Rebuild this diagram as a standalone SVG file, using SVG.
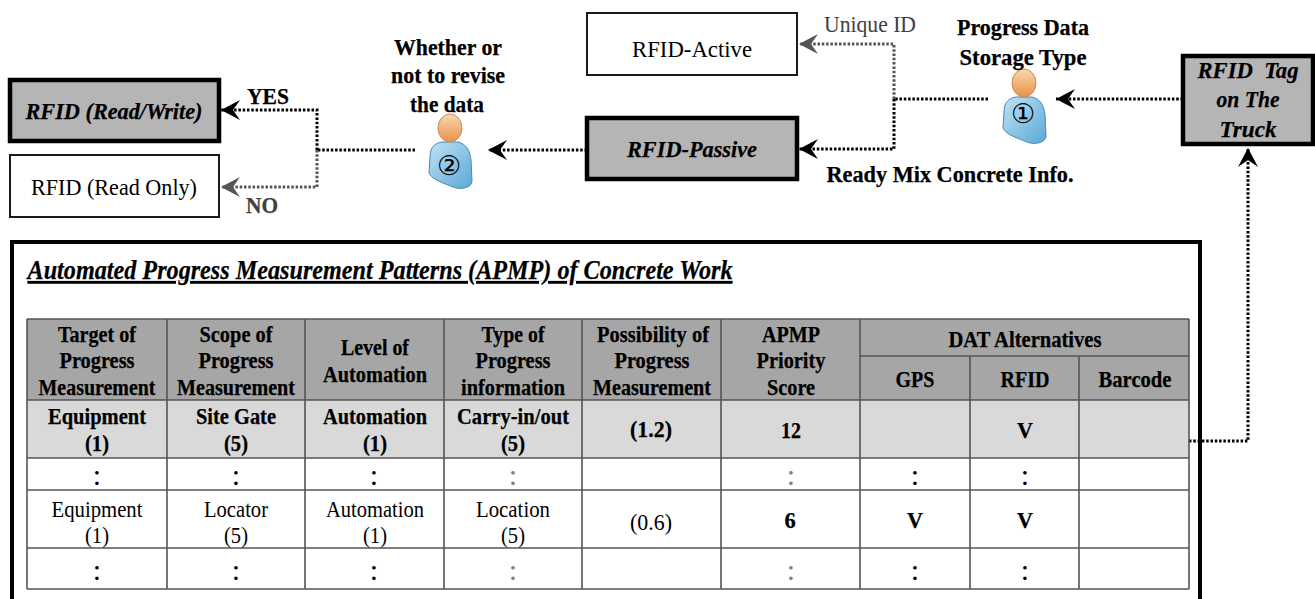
<svg xmlns="http://www.w3.org/2000/svg" width="1315" height="599" viewBox="0 0 1315 599">
<style>
text{font-family:"Liberation Serif","Times New Roman",serif;font-size:22.5px;fill:#000;text-anchor:middle}
.b{font-weight:bold;stroke:#000;stroke-width:.25}
.bi{font-weight:bold;font-style:italic;stroke:#000;stroke-width:.25}
.g{fill:#404040;stroke:#404040}
.dots{font-size:30px}
.dg{fill:#808080}
.thin{fill:#fff;stroke:#1a1a1a;stroke-width:2}
.thick{fill:#b5b5b5;stroke:#000;stroke-width:4.5}
.c{fill:none;stroke:#000;stroke-width:3;stroke-dasharray:2.5 1.8}
.cg{stroke:#555}
.grid{stroke:#555;stroke-width:1.6;fill:none}
.dig{font-family:"DejaVu Sans",sans-serif;font-size:27px}
</style>
<defs>
<marker id="a" markerUnits="userSpaceOnUse" markerWidth="22" markerHeight="24" refX="21" refY="12" orient="auto"><path d="M21 12L2 2L9 12L2 22Z" fill="#000"/></marker>
<marker id="ag" markerUnits="userSpaceOnUse" markerWidth="22" markerHeight="24" refX="21" refY="12" orient="auto"><path d="M21 12L2 2L9 12L2 22Z" fill="#555"/></marker>
<linearGradient id="skin" x1="0" y1="0" x2="0" y2="1"><stop offset="0" stop-color="#f8d8b0"/><stop offset="1" stop-color="#e8924a"/></linearGradient>
<linearGradient id="shirt" x1="0" y1="0" x2="1" y2="1"><stop offset="0" stop-color="#bfe3f5"/><stop offset="1" stop-color="#5ba8d6"/></linearGradient>
<g id="person">
<path d="M-20 -3C-20 -14 -14 -17 -8 -18L8 -18C16 -16 20 -10 21 0L22 21C22 28 10 30 3 27C-4 24 -18 20 -21 13Z" fill="url(#shirt)" stroke="#4a88ad" stroke-width="1"/>
<ellipse cx="0" cy="-32" rx="12" ry="14" fill="url(#skin)" stroke="#c88a58" stroke-width="1"/>
</g>
</defs>
<rect width="1315" height="599" fill="#fff"/>

<g id="connectors">
<path class="c" d="M1183 99H1056" marker-end="url(#a)"/>
<path class="c" d="M988 99H894"/>
<path class="c cg" d="M894 99V44H799" marker-end="url(#ag)"/>
<path class="c" d="M894 99V149H799" marker-end="url(#a)"/>
<path class="c" d="M587 150H488" marker-end="url(#a)"/>
<path class="c" d="M415 150H317"/>
<path class="c" d="M317 150V110H221" marker-end="url(#a)"/>
<path class="c cg" d="M317 150V187H221" marker-end="url(#ag)"/>
<path class="c" d="M1189 441H1248V148" marker-end="url(#a)"/>
</g>

<g id="rfid-read-write"><rect class="thick" x="10" y="80" width="209" height="61"/><text class="bi" x="114" y="119" textLength="177" lengthAdjust="spacingAndGlyphs">RFID (Read/Write)</text></g>
<g id="rfid-read-only"><rect class="thin" x="10" y="155" width="209" height="62"/><text x="114" y="195" textLength="166" lengthAdjust="spacingAndGlyphs">RFID (Read Only)</text></g>
<g id="rfid-active"><rect class="thin" x="587" y="13" width="210" height="62"/><text x="692" y="57" textLength="120" lengthAdjust="spacingAndGlyphs">RFID-Active</text></g>
<g id="rfid-passive"><rect class="thick" x="587" y="118" width="210" height="61"/><text class="bi" x="692" y="157" textLength="130" lengthAdjust="spacingAndGlyphs">RFID-Passive</text></g>
<g id="rfid-tag"><rect class="thick" x="1183" y="56" width="130" height="88"/><text class="bi" x="1248" y="78" textLength="101" lengthAdjust="spacingAndGlyphs" xml:space="preserve">RFID  Tag</text><text class="bi" x="1248" y="107" textLength="63" lengthAdjust="spacingAndGlyphs">on The</text><text class="bi" x="1248" y="137" textLength="57" lengthAdjust="spacingAndGlyphs">Truck</text></g>

<g id="person-1"><use href="#person" x="1024" y="115"/><text class="dig" x="1023" y="123">①</text></g>
<g id="person-2"><use href="#person" x="450" y="160"/><text class="dig" x="449" y="175">②</text></g>

<g id="labels">
<text class="b" x="448" y="55" textLength="108" lengthAdjust="spacingAndGlyphs">Whether or</text>
<text class="b" x="448" y="83" textLength="114" lengthAdjust="spacingAndGlyphs">not to revise</text>
<text class="b" x="447" y="112" textLength="74" lengthAdjust="spacingAndGlyphs">the data</text>
<text class="b" x="268" y="104" textLength="42" lengthAdjust="spacingAndGlyphs">YES</text>
<text class="b g" x="262" y="213" textLength="32" lengthAdjust="spacingAndGlyphs">NO</text>
<text class="g" x="870" y="32" textLength="92" lengthAdjust="spacingAndGlyphs" style="stroke:none">Unique ID</text>
<text class="b" x="1023" y="35" textLength="132" lengthAdjust="spacingAndGlyphs">Progress Data</text>
<text class="b" x="1023" y="65" textLength="127" lengthAdjust="spacingAndGlyphs">Storage Type</text>
<text class="b" x="950" y="182" textLength="247" lengthAdjust="spacingAndGlyphs">Ready Mix Concrete Info.</text>
</g>

<g id="apmp-frame"><path d="M12 604V242H1200V604" fill="none" stroke="#000" stroke-width="4"/>
<text class="bi" x="380" y="279" style="font-size:27px;text-decoration:underline" textLength="705" lengthAdjust="spacingAndGlyphs">Automated Progress Measurement Patterns (APMP) of Concrete Work</text></g>

<g id="apmp-table">
<rect x="27" y="319" width="1162" height="81" fill="#a6a6a6"/>
<rect x="27" y="400" width="1162" height="58" fill="#d9d9d9"/>
<path class="grid" d="M27 319H1189M27 400H1189M860 356H1189M27 458H1189M27 490H1189M27 548H1189M27 589H1189M27 319V589M167 319V589M305 319V589M444 319V589M582 319V589M721 319V589M860 319V589M970 356V589M1079 356V589M1189 319V589"/>
<text class="b" x="97" y="342" textLength="78" lengthAdjust="spacingAndGlyphs">Target of</text>
<text class="b" x="97" y="368" textLength="75" lengthAdjust="spacingAndGlyphs">Progress</text>
<text class="b" x="97" y="395" textLength="117" lengthAdjust="spacingAndGlyphs">Measurement</text>
<text class="b" x="236" y="342" textLength="73" lengthAdjust="spacingAndGlyphs">Scope of</text>
<text class="b" x="236" y="368" textLength="75" lengthAdjust="spacingAndGlyphs">Progress</text>
<text class="b" x="236" y="395" textLength="118" lengthAdjust="spacingAndGlyphs">Measurement</text>
<text class="b" x="375" y="355" textLength="68" lengthAdjust="spacingAndGlyphs">Level of</text>
<text class="b" x="375" y="382" textLength="104" lengthAdjust="spacingAndGlyphs">Automation</text>
<text class="b" x="513" y="342" textLength="63" lengthAdjust="spacingAndGlyphs">Type of</text>
<text class="b" x="513" y="368" textLength="75" lengthAdjust="spacingAndGlyphs">Progress</text>
<text class="b" x="513" y="395" textLength="104" lengthAdjust="spacingAndGlyphs">information</text>
<text class="b" x="653" y="342" textLength="112" lengthAdjust="spacingAndGlyphs">Possibility of</text>
<text class="b" x="652" y="368" textLength="75" lengthAdjust="spacingAndGlyphs">Progress</text>
<text class="b" x="652" y="395" textLength="118" lengthAdjust="spacingAndGlyphs">Measurement</text>
<text class="b" x="791" y="342" textLength="58" lengthAdjust="spacingAndGlyphs">APMP</text>
<text class="b" x="791" y="368" textLength="69" lengthAdjust="spacingAndGlyphs">Priority</text>
<text class="b" x="791" y="395" textLength="48" lengthAdjust="spacingAndGlyphs">Score</text>
<text class="b" x="1025" y="347" textLength="153" lengthAdjust="spacingAndGlyphs">DAT Alternatives</text>
<text class="b" x="915" y="387" textLength="39" lengthAdjust="spacingAndGlyphs">GPS</text>
<text class="b" x="1025" y="387" textLength="49" lengthAdjust="spacingAndGlyphs">RFID</text>
<text class="b" x="1135" y="387" textLength="73" lengthAdjust="spacingAndGlyphs">Barcode</text>

<text class="b" x="97" y="424" textLength="98" lengthAdjust="spacingAndGlyphs">Equipment</text>
<text class="b" x="97" y="451" textLength="24" lengthAdjust="spacingAndGlyphs">(1)</text>
<text class="b" x="236" y="424" textLength="80" lengthAdjust="spacingAndGlyphs">Site Gate</text>
<text class="b" x="236" y="451" textLength="24" lengthAdjust="spacingAndGlyphs">(5)</text>
<text class="b" x="375" y="424" textLength="104" lengthAdjust="spacingAndGlyphs">Automation</text>
<text class="b" x="375" y="451" textLength="24" lengthAdjust="spacingAndGlyphs">(1)</text>
<text class="b" x="513" y="424" textLength="112" lengthAdjust="spacingAndGlyphs">Carry-in/out</text>
<text class="b" x="513" y="451" textLength="24" lengthAdjust="spacingAndGlyphs">(5)</text>
<text class="b" x="651" y="437" textLength="42" lengthAdjust="spacingAndGlyphs">(1.2)</text>
<text class="b" x="791" y="438" textLength="20" lengthAdjust="spacingAndGlyphs">12</text>
<text class="b" x="1025" y="438" textLength="16" lengthAdjust="spacingAndGlyphs">V</text>

<text x="97" y="517" textLength="91" lengthAdjust="spacingAndGlyphs">Equipment</text>
<text x="97" y="543" textLength="24" lengthAdjust="spacingAndGlyphs">(1)</text>
<text x="236" y="517" textLength="64" lengthAdjust="spacingAndGlyphs">Locator</text>
<text x="236" y="543" textLength="24" lengthAdjust="spacingAndGlyphs">(5)</text>
<text x="375" y="517" textLength="98" lengthAdjust="spacingAndGlyphs">Automation</text>
<text x="375" y="543" textLength="24" lengthAdjust="spacingAndGlyphs">(1)</text>
<text x="513" y="517" textLength="74" lengthAdjust="spacingAndGlyphs">Location</text>
<text x="513" y="543" textLength="24" lengthAdjust="spacingAndGlyphs">(5)</text>
<text x="651" y="530" textLength="42" lengthAdjust="spacingAndGlyphs">(0.6)</text>
<text class="b" x="790" y="528">6</text>
<text class="b" x="915" y="528" textLength="16" lengthAdjust="spacingAndGlyphs">V</text>
<text class="b" x="1025" y="528" textLength="16" lengthAdjust="spacingAndGlyphs">V</text>
<g class="dots">
<text class="dots" x="97" y="485">:</text><text class="dots" x="236" y="485">:</text><text class="dots" x="374" y="485">:</text><text class="dots dg" x="513" y="485">:</text><text class="dots dg" x="791" y="485">:</text><text class="dots" x="915" y="485">:</text><text class="dots" x="1025" y="485">:</text>
<text class="dots" x="97" y="580">:</text><text class="dots" x="236" y="580">:</text><text class="dots" x="374" y="580">:</text><text class="dots dg" x="513" y="580">:</text><text class="dots dg" x="791" y="580">:</text><text class="dots" x="915" y="580">:</text><text class="dots" x="1025" y="580">:</text>
</g>
</g>
</svg>
